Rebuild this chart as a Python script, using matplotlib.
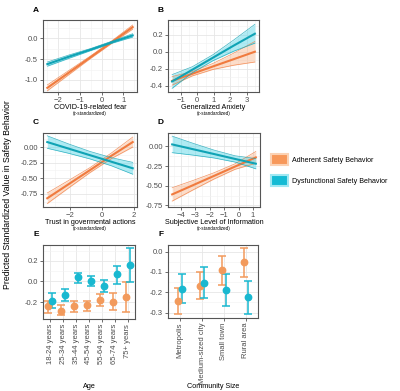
import numpy as np
import matplotlib
matplotlib.use('Agg')
from matplotlib import pyplot as plt
from matplotlib.patches import Patch
import matplotlib.ticker as ticker

plt.rcParams['font.family'] = ['Liberation Sans', 'DejaVu Sans']

# colours
orange = '#F07B3F'
orange_fill = '#F9B48A'
orange_pt = '#F29A5C'
blue = '#10A3B5'
blue_fill = '#4FD3E6'
blue_pt = '#19B8D0'

# --- panel A: COVID-19-related fear
a_x = [-2.5, -1.5, -0.5, 0.5, 1.43]
a_adh = [-1.19, -0.82, -0.45, -0.08, 0.27]
a_adh_se = [0.07, 0.05, 0.03, 0.03, 0.05]
a_dys = [-0.62, -0.44, -0.27, -0.09, 0.07]
a_dys_se = [0.05, 0.04, 0.025, 0.025, 0.04]

# --- panel B: Generalized Anxiety
b_x = [-1.53, -0.3, 0.95, 2.2, 3.5]
b_adh = [-0.34, -0.257, -0.172, -0.088, 0.0]
b_adh_se = [0.05, 0.025, 0.035, 0.07, 0.12]
b_dys = [-0.347, -0.21, -0.07, 0.07, 0.21]
b_dys_se = [0.08, 0.035, 0.035, 0.065, 0.11]

# --- panel C: Trust in govermental actions
c_x = [-3.46, -2.11, -0.76, 0.6, 1.95]
c_adh = [-0.82, -0.595, -0.37, -0.14, 0.08]
c_adh_se = [0.085, 0.06, 0.04, 0.045, 0.08]
c_dys = [0.08, -0.025, -0.13, -0.235, -0.34]
c_dys_se = [0.1, 0.075, 0.06, 0.065, 0.095]

# --- panel D: Subjective Level of Information
d_x = [-4.6, -3.15, -1.7, -0.25, 1.2]
d_adh = [-0.61, -0.4925, -0.375, -0.257, -0.14]
d_adh_se = [0.085, 0.06, 0.04, 0.035, 0.075]
d_dys = [0.025, -0.036, -0.097, -0.159, -0.22]
d_dys_se = [0.105, 0.075, 0.05, 0.04, 0.065]

# --- panel E: Age
ages = ['18-24 years', '25-34 years', '35-44 years', '45-54 years',
        '55-64 years', '65-74 years', '75+ years']
e_adh = [-0.242, -0.284, -0.242, -0.232, -0.177, -0.2, -0.155]
e_adh_lo = [-0.306, -0.33, -0.297, -0.284, -0.235, -0.274, -0.3]
e_adh_hi = [-0.187, -0.232, -0.194, -0.187, -0.123, -0.116, -0.006]
e_dys = [-0.187, -0.13, 0.039, 0.006, -0.045, 0.071, 0.16]
e_dys_lo = [-0.26, -0.19, -0.016, -0.048, -0.106, -0.026, -0.006]
e_dys_hi = [-0.11, -0.074, 0.087, 0.058, 0.016, 0.155, 0.33]

# --- panel F: Community Size
community = ['Metropolis', 'Medium-sized city', 'Small town', 'Rural area']
f_adh = [-0.244, -0.168, -0.092, -0.052]
f_adh_lo = [-0.306, -0.235, -0.163, -0.123]
f_adh_hi = [-0.18, -0.1, -0.023, 0.019]
f_dys = [-0.182, -0.153, -0.19, -0.224]
f_dys_lo = [-0.255, -0.227, -0.27, -0.306]
f_dys_hi = [-0.111, -0.076, -0.111, -0.145]

W, H = 400, 391
fig = plt.figure(figsize=(W / 100, H / 100), dpi=100)


def box(l, t, r, b):
    return [l / W, 1 - b / H, (r - l) / W, (b - t) / H]


def style(ax):
    ax.set_facecolor('white')
    for s in ax.spines.values():
        s.set_color('#555555')
        s.set_linewidth(0.8)
    ax.grid(True, which='major', color='#E6E6E6', lw=0.6)
    ax.grid(True, which='minor', color='#F2F2F2', lw=0.4)
    ax.set_axisbelow(True)
    ax.tick_params(which='major', length=2, width=0.5, color='#333333',
                   labelsize=5.5, labelcolor='#4D4D4D', pad=1.5)
    ax.tick_params(which='minor', length=0)


def ribbon_panel(ax, x, adh, adh_se, dys, dys_se, xlim, ylim, xstep, ystep, title):
    x = np.array(x)
    for fit, se, lc, fc in [(adh, adh_se, orange, orange_fill),
                            (dys, dys_se, blue, blue_fill)]:
        fit = np.array(fit)
        se = np.array(se)
        ax.fill_between(x, fit - se, fit + se, color=fc, alpha=0.45, lw=0)
        ax.plot(x, fit - se, color=lc, lw=0.5, alpha=0.8)
        ax.plot(x, fit + se, color=lc, lw=0.5, alpha=0.8)
        ax.plot(x, fit, color=lc, lw=1.5)
    ax.set_xlim(*xlim)
    ax.set_ylim(*ylim)
    ax.xaxis.set_major_locator(ticker.MultipleLocator(xstep))
    ax.xaxis.set_minor_locator(ticker.MultipleLocator(xstep / 2))
    ax.yaxis.set_major_locator(ticker.MultipleLocator(ystep))
    ax.yaxis.set_minor_locator(ticker.MultipleLocator(ystep / 2))
    style(ax)
    # axis title + small unit line, placed in pixels below the panel
    h = ax.get_position().height * H
    ax.text(0.5, -15.5 / h, title, transform=ax.transAxes, ha='center', va='center',
            fontsize=5.2)
    ax.text(0.5, -21.5 / h, '(z-standardized)', transform=ax.transAxes, ha='center',
            va='center', fontsize=3.3)


def point_panel(ax, cats, adh, adh_lo, adh_hi, dys, dys_lo, dys_hi, dodge, ylim, ystep, yfmt):
    pos = np.arange(1, len(cats) + 1)
    for off, v, lo, hi, c in [(-dodge, adh, adh_lo, adh_hi, orange_pt),
                              (dodge, dys, dys_lo, dys_hi, blue_pt)]:
        v = np.array(v)
        err = [v - np.array(lo), np.array(hi) - v]
        ax.errorbar(pos + off, v, yerr=err, fmt='o', color=c, ms=4.6, elinewidth=1.1,
                    capsize=2.6, capthick=1.1)
    ax.set_xlim(0.45, len(cats) + 0.55)
    ax.set_ylim(*ylim)
    ax.set_xticks(pos)
    ax.set_xticklabels(cats, rotation=90, ha='center', va='top')
    ax.yaxis.set_major_locator(ticker.MultipleLocator(ystep))
    ax.yaxis.set_minor_locator(ticker.MultipleLocator(ystep / 2))
    ax.yaxis.set_major_formatter(ticker.FormatStrFormatter(yfmt))
    style(ax)


axA = fig.add_axes(box(43, 20, 137, 92))
ribbon_panel(axA, a_x, a_adh, a_adh_se, a_dys, a_dys_se, (-2.7, 1.63), (-1.29, 0.44),
             1, 0.5, 'COVID-19-related fear')
axA.yaxis.set_major_formatter(ticker.FormatStrFormatter('%.1f'))

axB = fig.add_axes(box(168, 20, 259, 92))
ribbon_panel(axB, b_x, b_adh, b_adh_se, b_dys, b_dys_se, (-1.78, 3.75), (-0.47, 0.37),
             1, 0.2, 'Generalized Anxiety')
axB.yaxis.set_major_formatter(ticker.FormatStrFormatter('%.1f'))

axC = fig.add_axes(box(43, 133, 137, 207))
ribbon_panel(axC, c_x, c_adh, c_adh_se, c_dys, c_dys_se, (-3.73, 2.22), (-0.96, 0.225),
             2, 0.25, 'Trust in govermental actions')
axC.yaxis.set_major_formatter(ticker.FormatStrFormatter('%.2f'))

axD = fig.add_axes(box(168, 133, 260, 207))
ribbon_panel(axD, d_x, d_adh, d_adh_se, d_dys, d_dys_se, (-4.89, 1.49), (-0.77, 0.17),
             1, 0.25, 'Subjective Level of Information')
axD.yaxis.set_major_formatter(ticker.FormatStrFormatter('%.2f'))

axE = fig.add_axes(box(43, 245, 135, 319))
point_panel(axE, ages, e_adh, e_adh_lo, e_adh_hi, e_dys, e_dys_lo, e_dys_hi, 0.13,
            (-0.365, 0.355), 0.2, '%.1f')

axF = fig.add_axes(box(168, 245, 258, 318))
point_panel(axF, community, f_adh, f_adh_lo, f_adh_hi, f_dys, f_dys_lo, f_dys_hi, 0.1,
            (-0.327, 0.032), 0.1, '%.1f')

# panel letters
for lab, x, y in [('A', 36, 11), ('B', 161, 11), ('C', 36, 123), ('D', 161, 123),
                  ('E', 36, 235), ('F', 161, 235)]:
    fig.text(x / W, 1 - y / H, lab, fontsize=6, fontweight='bold', ha='center', va='center')

fig.text(89 / W, 1 - 387 / H, 'Age', fontsize=5.2, ha='center', va='center')
fig.text(213 / W, 1 - 387 / H, 'Community Size', fontsize=5.2, ha='center', va='center')
fig.text(8 / W, 1 - 195 / H, 'Predicted Standardized Value in Safety Behavior',
         rotation=90, fontsize=6.3, ha='center', va='center')

handles = [Patch(facecolor='#F7985A', edgecolor='#FBD2B4', lw=1.5),
           Patch(facecolor='#14BBD4', edgecolor='#A0E8F2', lw=1.5)]
fig.legend(handles, ['Adherent Safety Behavior', 'Dysfunctional Safety Behavior'],
           loc='center left', bbox_to_anchor=(265 / W, 1 - 170 / H), frameon=False,
           fontsize=5.1, handlelength=2.4, handleheight=2.1, labelspacing=1.3,
           handletextpad=0.55)

fig.savefig('out.png', dpi=100, facecolor='white')
